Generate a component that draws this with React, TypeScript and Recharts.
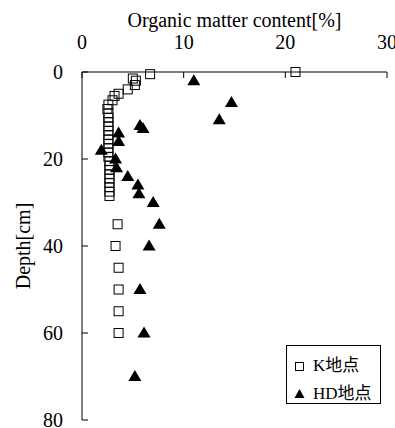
import React from 'react';
import { ScatterChart, Scatter, XAxis, YAxis, Label, Legend } from 'recharts';

// K地点: depth [cm] and organic matter content [%]
const kDepth = [0, 0.5, 1.5, 2, 3, 4, 5, 5.5, 6.5, 7.5, 8.5, 9.5, 10.5, 11.5, 12.5, 13.5, 14.5, 15.5, 16.5, 17.5, 18.5, 19.5, 20.5, 21.5, 22.5, 23.5, 24.5, 25.5, 26.5, 27.5, 28.5, 35, 40, 45, 50, 55, 60];
const kValue = [21.0, 6.7, 5.0, 5.3, 5.2, 4.5, 3.6, 3.2, 3.0, 2.6, 2.5, 2.6, 2.6, 2.6, 2.6, 2.6, 2.6, 2.6, 2.6, 2.6, 2.6, 2.6, 2.7, 2.7, 2.7, 2.7, 2.7, 2.7, 2.7, 2.7, 2.7, 3.5, 3.3, 3.6, 3.6, 3.6, 3.6];

// HD地点
const hdDepth = [2, 7, 11, 12.3, 13, 14, 16, 18, 20, 22, 24, 26, 28, 30, 35, 40, 50, 60, 70];
const hdValue = [11.0, 14.7, 13.5, 5.7, 6.0, 3.6, 3.6, 1.9, 3.3, 3.4, 4.5, 5.5, 5.6, 7.0, 7.6, 6.6, 5.7, 6.1, 5.2];

const xTicks = [0, 10, 20, 30];
const yTicks = [0, 20, 40, 60, 80];
const seriesNames = ['K地点', 'HD地点'];

const kData = kDepth.map((d, i) => ({ x: kValue[i], y: d }));
const hdData = hdDepth.map((d, i) => ({ x: hdValue[i], y: d }));

const FONT = "'Liberation Serif', 'Times New Roman', serif";
const CJK_FONT = "'Liberation Serif', 'Noto Sans CJK JP', serif";

const SquareShape = (props: any) => {
  const { cx, cy } = props;
  if (cx == null || cy == null) return null;
  return <rect x={cx - 4.5} y={cy - 4.5} width={9} height={9} fill="none" stroke="#000" strokeWidth={1} />;
};

const TriangleShape = (props: any) => {
  const { cx, cy } = props;
  if (cx == null || cy == null) return null;
  return (
    <polygon
      points={`${cx},${cy - 6.5} ${cx - 6.5},${cy + 4.5} ${cx + 6.5},${cy + 4.5}`}
      fill="#000"
      stroke="none"
    />
  );
};

const LegendBox = (props: any) => {
  const payload = [...(props.payload || [])].sort(
    (a: any, b: any) => seriesNames.indexOf(a.value) - seriesNames.indexOf(b.value)
  );
  return (
    <div
      style={{
        boxSizing: 'border-box',
        width: 95,
        height: 59,
        border: '1px solid #000',
        background: '#fff',
        position: 'relative',
        fontFamily: CJK_FONT,
        fontSize: 17,
        color: '#000',
      }}
    >
      {payload.map((entry: any, i: number) => {
        const isK = entry.value === seriesNames[0];
        return (
          <div
            key={entry.value}
            style={{
              position: 'absolute',
              left: 0,
              top: i === 0 ? 9 : 37,
              height: 22,
              display: 'flex',
              alignItems: 'center',
              whiteSpace: 'nowrap',
            }}
          >
            <svg width={26} height={22} style={{ display: 'block' }}>
              {isK ? (
                <rect x={8.5} y={7.5} width={8} height={8} fill="none" stroke="#000" strokeWidth={1} />
              ) : (
                <polygon points="12.5,6 7.5,15 17.5,15" fill="#000" />
              )}
            </svg>
            <span style={{ lineHeight: '22px' }}>{entry.value}</span>
          </div>
        );
      })}
    </div>
  );
};

export default function App() {
  return (
    <div style={{ position: 'absolute', left: 0, top: 0 }}>
      <ScatterChart width={395} height={428} margin={{ top: 0, right: 8, bottom: 8, left: 0 }}>
        <XAxis
          dataKey="x"
          type="number"
          orientation="top"
          domain={[0, 30]}
          ticks={xTicks}
          height={72}
          tickSize={-6}
          tickMargin={29}
          axisLine={{ stroke: '#000' }}
          tickLine={{ stroke: '#000' }}
          tick={{ fill: '#000', fontSize: 20, fontFamily: FONT }}
          interval={0}
        >
          <Label
            content={(p: any) => {
              const vb = p.viewBox || {};
              return (
                <text
                  x={vb.x + vb.width / 2}
                  y={27}
                  textAnchor="middle"
                  fontFamily={FONT}
                  fontSize={20}
                  fill="#000"
                >
                  Organic matter content[%]
                </text>
              );
            }}
          />
        </XAxis>
        <YAxis
          dataKey="y"
          type="number"
          domain={[0, 80]}
          reversed
          ticks={yTicks}
          width={82}
          tickSize={-6}
          tickMargin={25}
          axisLine={{ stroke: '#000' }}
          tickLine={{ stroke: '#000' }}
          tick={{ fill: '#000', fontSize: 20, fontFamily: FONT }}
          interval={0}
        >
          <Label
            content={(p: any) => {
              const vb = p.viewBox || {};
              const cy = vb.y + vb.height / 2;
              return (
                <text
                  x={30}
                  y={cy}
                  transform={`rotate(-90, 30, ${cy})`}
                  textAnchor="middle"
                  fontFamily={FONT}
                  fontSize={20}
                  fill="#000"
                >
                  Depth[cm]
                </text>
              );
            }}
          />
        </YAxis>
        <Legend
          layout="vertical"
          align="center"
          verticalAlign="middle"
          content={<LegendBox />}
          wrapperStyle={{ left: 286, top: 345, width: 95, height: 59 }}
        />
        <Scatter name={seriesNames[0]} data={kData} shape={<SquareShape />} isAnimationActive={false} />
        <Scatter name={seriesNames[1]} data={hdData} shape={<TriangleShape />} isAnimationActive={false} />
      </ScatterChart>
    </div>
  );
}
